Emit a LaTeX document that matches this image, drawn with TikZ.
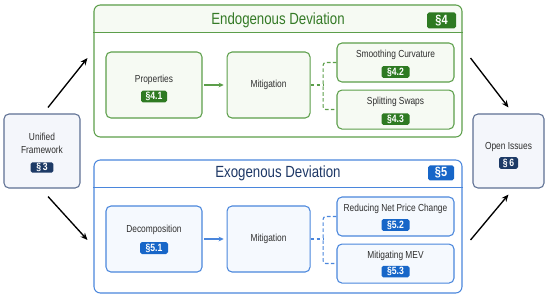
\documentclass[tikz,border=0pt]{standalone}
\usepackage{fontspec}
\setmainfont{Liberation Sans}[FakeStretch=0.82]
\usetikzlibrary{arrows.meta, positioning, calc, backgrounds}
\definecolor{egreen}{HTML}{2E7A22}
\definecolor{egreenln}{HTML}{5C9E4A}
\definecolor{egreenbg}{HTML}{F6FAF3}
\definecolor{etitle}{HTML}{347A26}
\definecolor{xblue}{HTML}{1766C8}
\definecolor{xblueln}{HTML}{4A86DC}
\definecolor{xbluebg}{HTML}{F5F9FE}
\definecolor{xtitle}{HTML}{1E3866}
\definecolor{unavy}{HTML}{1D3A66}
\definecolor{unavyln}{HTML}{5D6F93}
\definecolor{unavybg}{HTML}{F4F6FB}
\definecolor{ink}{HTML}{2E2E2E}
\tikzset{
  box/.style={rectangle, rounded corners=7pt, line width=1.5pt, inner sep=0pt},
  grp/.style={box, rounded corners=9pt, minimum width=18.4cm},
  gbox/.style={box, draw=egreenln, fill=egreenbg},
  bbox/.style={box, draw=xblueln, fill=xbluebg},
  nbox/.style={box, draw=unavyln, fill=unavybg},
  lbl/.style={text=ink, font=\fontsize{14.5}{18.5}\selectfont, align=center, inner sep=0pt},
  badge/.style={rectangle, rounded corners=2.5pt, text=white, inner sep=0pt,
                minimum height=0.58cm, font=\fontsize{15}{16}\selectfont\bfseries},
  gbadge/.style={badge, fill=egreen},
  bbadge/.style={badge, fill=xblue},
  nbadge/.style={badge, fill=unavy},
  bigbadge/.style={minimum height=0.8cm, font=\fontsize{19}{20}\selectfont\bfseries},
  gtitle/.style={text=etitle, font=\fontsize{23}{24}\selectfont, inner sep=0pt},
  btitle/.style={text=xtitle, font=\fontsize{23}{24}\selectfont, inner sep=0pt},
  flow/.style={-{Stealth[length=3.6mm, width=3mm]}, draw=black, line width=1.9pt},
  greenflow/.style={-{Stealth[length=2.6mm, width=2.4mm]}, draw=egreenln, line width=2pt,
                    shorten <=2pt, shorten >=4pt},
  blueflow/.style={-{Stealth[length=2.6mm, width=2.4mm]}, draw=xblueln, line width=2pt,
                   shorten <=2pt, shorten >=4pt},
  greenlink/.style={draw=egreenln, line width=1.6pt, dash pattern=on 5pt off 3.5pt, rounded corners=4pt},
  bluelink/.style={draw=xblueln, line width=1.6pt, dash pattern=on 5pt off 3.5pt, rounded corners=4pt}
}
\begin{document}
\begin{tikzpicture}[x=0.05cm, y=-0.05cm]
  \useasboundingbox (0,0) rectangle (550,297);

  % outer left / right
  \node[nbox, minimum width=3.8cm, minimum height=3.7cm] (uni) at (42,151) {};
  \node[lbl] (uni-t) at ($(uni)+(0,-7.5)$) {Unified\\Framework};
  \node[nbadge, minimum width=1.15cm, minimum height=0.52cm] (uni-b) at ($(uni)+(0,16.5)$) {§\,3};
  \node[nbox, minimum width=3.55cm, minimum height=3.7cm] (open) at (508.5,151) {};
  \node[lbl] (open-t) at ($(open)+(0,-4)$) {Open Issues};
  \node[nbadge, minimum width=0.95cm] (open-b) at ($(open)+(0,12)$) {§\,6};

  % endogenous group
  \node[grp, draw=egreenln, minimum height=6.6cm] (endo) at (278,71) {};
  \begin{scope}[on background layer]
    \clip[rounded corners=9pt] (endo.north west) rectangle (endo.south east);
    \fill[egreenbg] (endo.north west) rectangle ($(endo.north east)+(0,28)$);
  \end{scope}
  \draw[egreenln, line width=1.5pt] ($(endo.north west)+(0,28)$) -- ($(endo.north east)+(0,28)$);
  \node[gtitle] (endo-t) at ($(endo.north)+(0,16)$) {Endogenous Deviation};
  \node[gbadge, bigbadge, minimum width=1.45cm] (endo-b) at ($(endo.north east)+(-21,16)$) {§4};

  \node[gbox, minimum width=4.8cm, minimum height=3.3cm] (prop) at (154,85) {};
  \node[lbl] (prop-t) at ($(prop)+(0,-5)$) {Properties};
  \node[gbadge, minimum width=1.3cm] (prop-b) at ($(prop)+(0,11.5)$) {§4.1};
  \node[gbox, minimum width=4.15cm, minimum height=3.3cm, right=1.2cm of prop] (mitg) {};
  \node[lbl] (mitg-t) at (mitg) {Mitigation};
  \node[gbox, minimum width=5.85cm, minimum height=1.95cm] (smooth) at (395.5,62.5) {};
  \node[lbl] (smooth-t) at ($(smooth)+(0,-7.5)$) {Smoothing Curvature};
  \node[gbadge, minimum width=1.4cm] (smooth-b) at ($(smooth)+(0,9.5)$) {§4.2};
  \node[gbox, minimum width=5.85cm, minimum height=1.95cm, below=0.35cm of smooth] (split) {};
  \node[lbl] (split-t) at ($(split)+(0,-7.5)$) {Splitting Swaps};
  \node[gbadge, minimum width=1.4cm] (split-b) at ($(split)+(0,9.5)$) {§4.3};

  \draw[greenflow] (prop.east) -- (mitg.west);
  \draw[greenlink] (mitg.east) -- ++(12.5,0) coordinate (endo-j);
  \draw[greenlink] (smooth.west) -| (endo-j) |- (split.west);

  % exogenous group
  \node[grp, draw=xblueln, minimum height=6.65cm] (exo) at (278,226.5) {};
  \begin{scope}[on background layer]
    \clip[rounded corners=9pt] (exo.north west) rectangle (exo.south east);
    \fill[xbluebg] (exo.north west) rectangle ($(exo.north east)+(0,28)$);
  \end{scope}
  \draw[xblueln, line width=1.5pt] ($(exo.north west)+(0,28)$) -- ($(exo.north east)+(0,28)$);
  \node[btitle] (exo-t) at ($(exo.north)+(0,14)$) {Exogenous Deviation};
  \node[bbadge, bigbadge, minimum width=1.3cm, minimum height=0.75cm] (exo-b) at ($(exo.north east)+(-21.5,13.5)$) {§5};

  \node[bbox, minimum width=4.8cm, minimum height=3.3cm] (dec) at (154,239) {};
  \node[lbl] (dec-t) at ($(dec)+(0,-9)$) {Decomposition};
  \node[bbadge, minimum width=1.4cm, minimum height=0.6cm] (dec-b) at ($(dec)+(0,9)$) {§5.1};
  \node[bbox, minimum width=4.15cm, minimum height=3.3cm, right=1.2cm of dec] (mitb) {};
  \node[lbl] (mitb-t) at (mitb) {Mitigation};
  \node[bbox, minimum width=5.85cm, minimum height=1.95cm] (price) at (395.5,216.5) {};
  \node[lbl] (price-t) at ($(price)+(0,-7.5)$) {Reducing Net Price Change};
  \node[bbadge, minimum width=1.4cm] (price-b) at ($(price)+(0,8.5)$) {§5.2};
  \node[bbox, minimum width=5.85cm, minimum height=1.95cm, below=0.35cm of price] (mev) {};
  \node[lbl] (mev-t) at ($(mev)+(0,-7.5)$) {Mitigating MEV};
  \node[bbadge, minimum width=1.4cm] (mev-b) at ($(mev)+(0,8)$) {§5.3};

  \draw[blueflow] (dec.east) -- (mitb.west);
  \draw[bluelink] (mitb.east) -- ++(12.5,0) coordinate (exo-j);
  \draw[bluelink] (price.west) -| (exo-j) |- (mev.west);

  % main flow
  \draw[flow] ($(uni.north)+(6,-6)$) -- ($(endo.west)+(-6,-13)$);
  \draw[flow] ($(uni.south)+(6,8)$) -- ($(exo.west)+(-6,13.5)$);
  \draw[flow] ($(endo.east)+(8,-13)$) -- ($(open.north)+(0,-6)$);
  \draw[flow] ($(exo.east)+(8,13.5)$) -- ($(open.south)+(0,6)$);
\end{tikzpicture}
\end{document}
